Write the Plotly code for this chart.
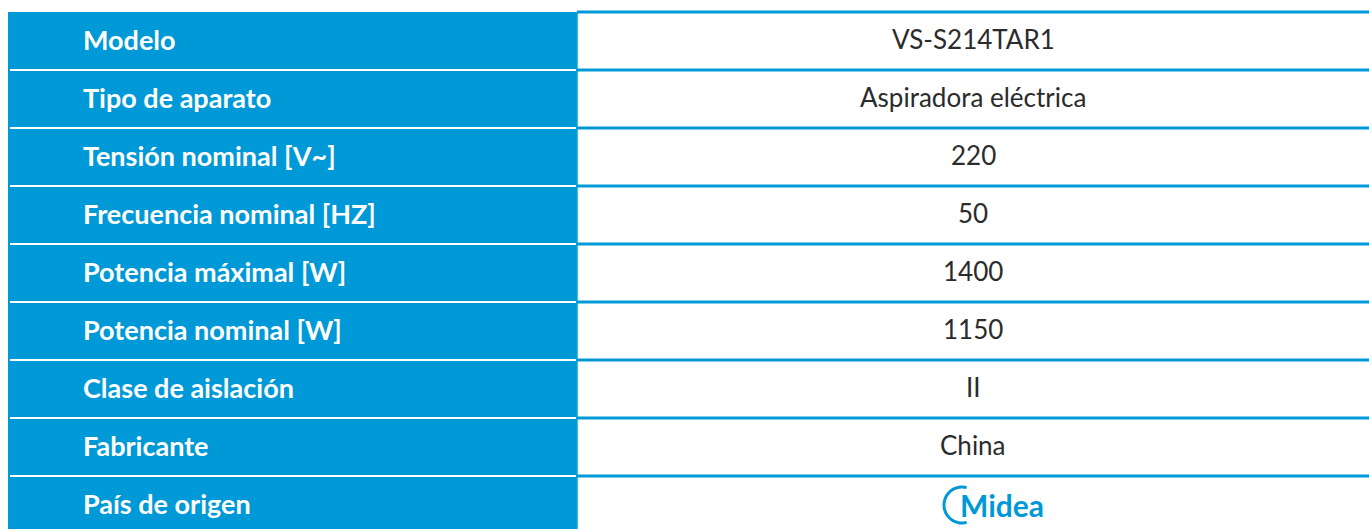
import math
import plotly.graph_objects as go

labels = ["Modelo", "Tipo de aparato", "Tensión nominal [V~]", "Frecuencia nominal [HZ]",
          "Potencia máximal [W]", "Potencia nominal [W]", "Clase de aislación",
          "Fabricante", "País de origen"]
values = ["VS-S214TAR1", "Aspiradora eléctrica", "220", "50", "1400", "1150", "II",
          "China", "Midea"]

W, H = 1369, 529
BLUE = "#0099D8"
TOP = 12
ROW = 58
LEFT_X0, SPLIT_X = 8, 577

fig = go.Figure()

n = len(labels)
shapes = []
shapes.append(dict(type="rect", xref="x", yref="y", x0=LEFT_X0, x1=SPLIT_X, y0=0, y1=n,
                   fillcolor=BLUE, line=dict(width=0), layer="below"))
shapes.append(dict(type="line", xref="x", yref="y", x0=SPLIT_X + 0.5, x1=SPLIT_X + 0.5, y0=0, y1=n,
                   line=dict(color="#4db8e5", width=1.2)))
for i in range(n):
    if i > 0:
        shapes.append(dict(type="line", xref="x", yref="y", x0=LEFT_X0 + 2, x1=SPLIT_X - 1, y0=i, y1=i,
                           line=dict(color="white", width=2)))
    shapes.append(dict(type="line", xref="x", yref="y", x0=SPLIT_X, x1=W, y0=i, y1=i,
                       line=dict(color=BLUE, width=3)))

annotations = []
for i, (lab, val) in enumerate(zip(labels, values)):
    annotations.append(dict(x=81, y=i + 0.47, xref="x", yref="y", text="<b>" + lab + "</b>",
                            showarrow=False, xanchor="left", yanchor="middle",
                            font=dict(family="Lato", size=27, color="white")))
    if val == "Midea":
        annotations.append(dict(x=1002, y=i + 0.5, xref="x", yref="y",
                                text="<b>" + val + "</b>", showarrow=False,
                                xanchor="center", yanchor="middle",
                                font=dict(family="Lato", size=30, color=BLUE)))
        # logo swoosh around the "M"
        cx, cy, r = 962, i + 0.5, 18
        pts = []
        for k in range(31):
            a = math.radians(75 + k * (210 / 30))
            pts.append((cx + r * math.cos(a), cy - r * math.sin(a) / ROW))
        path = "M " + " L ".join(f"{px:.2f},{py:.4f}" for px, py in pts)
        shapes.append(dict(type="path", xref="x", yref="y", path=path,
                           line=dict(color=BLUE, width=3)))
    else:
        annotations.append(dict(x=(SPLIT_X + W) / 2, y=i + 0.47, xref="x", yref="y", text=val,
                                showarrow=False, xanchor="center", yanchor="middle",
                                font=dict(family="Lato", size=26, color="#2b2b2b")))

fig.update_layout(
    width=W, height=H,
    margin=dict(l=0, r=0, t=0, b=0),
    paper_bgcolor="white", plot_bgcolor="white",
    xaxis=dict(range=[0, W], visible=False, fixedrange=True),
    yaxis=dict(range=[(H - TOP) / ROW, -TOP / ROW], visible=False, fixedrange=True),
    shapes=shapes, annotations=annotations, showlegend=False,
)

fig.write_html("out.html", config={"displayModeBar": False},
               post_script="document.body.style.margin='0';document.body.style.overflow='hidden';")
